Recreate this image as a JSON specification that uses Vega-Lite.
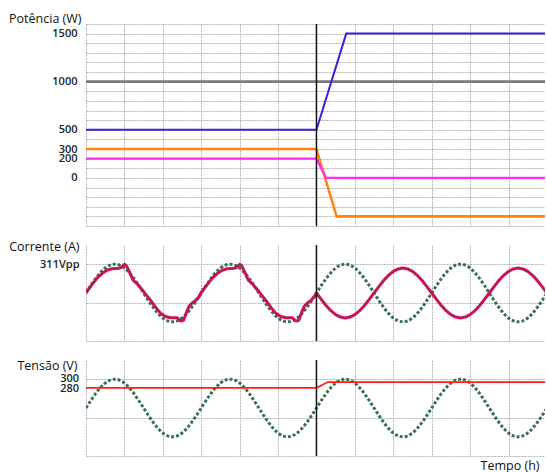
{
  "$schema": "https://vega.github.io/schema/vega-lite/v6.json",
  "padding": {"left": 8, "top": 12, "right": 0, "bottom": 0},
  "background": "white",
  "spacing": 19,
  "bounds": "flush",
  "datasets": {
    "power": [
      {"s": "cinza", "t": 0, "p": 1000}, {"s": "cinza", "t": 47.8, "p": 1000},
      {"s": "laranja", "t": 0, "p": 300}, {"s": "laranja", "t": 24, "p": 300}, {"s": "laranja", "t": 26.1, "p": -400}, {"s": "laranja", "t": 47.8, "p": -400},
      {"s": "rosa", "t": 0, "p": 200}, {"s": "rosa", "t": 24, "p": 200}, {"s": "rosa", "t": 25, "p": 0}, {"s": "rosa", "t": 47.8, "p": 0},
      {"s": "azul", "t": 0, "p": 500}, {"s": "azul", "t": 24, "p": 500}, {"s": "azul", "t": 27.1, "p": 1500}, {"s": "azul", "t": 47.8, "p": 1500}
    ],
    "volt": [
      {"t":0,"a":0,"v":240},{"t":0.5,"a":0.78,"v":255.5},{"t":1,"a":1.5,"v":270},{"t":1.5,"a":2.12,"v":282.4},{"t":2,"a":2.6,"v":292},{"t":2.5,"a":2.9,"v":298},{"t":3,"a":3,"v":300},{"t":3.5,"a":2.9,"v":298},{"t":4,"a":2.6,"v":292},{"t":4.5,"a":2.12,"v":282.4},{"t":5,"a":1.5,"v":270},{"t":5.5,"a":0.78,"v":255.5},{"t":6,"a":0,"v":240},{"t":6.5,"a":-0.78,"v":224.5},{"t":7,"a":-1.5,"v":210},{"t":7.5,"a":-2.12,"v":197.6},{"t":8,"a":-2.6,"v":188},{"t":8.5,"a":-2.9,"v":182},{"t":9,"a":-3,"v":180},{"t":9.5,"a":-2.9,"v":182},{"t":10,"a":-2.6,"v":188},{"t":10.5,"a":-2.12,"v":197.6},{"t":11,"a":-1.5,"v":210},{"t":11.5,"a":-0.78,"v":224.5},
      {"t":12,"a":0,"v":240},{"t":12.5,"a":0.78,"v":255.5},{"t":13,"a":1.5,"v":270},{"t":13.5,"a":2.12,"v":282.4},{"t":14,"a":2.6,"v":292},{"t":14.5,"a":2.9,"v":298},{"t":15,"a":3,"v":300},{"t":15.5,"a":2.9,"v":298},{"t":16,"a":2.6,"v":292},{"t":16.5,"a":2.12,"v":282.4},{"t":17,"a":1.5,"v":270},{"t":17.5,"a":0.78,"v":255.5},{"t":18,"a":0,"v":240},{"t":18.5,"a":-0.78,"v":224.5},{"t":19,"a":-1.5,"v":210},{"t":19.5,"a":-2.12,"v":197.6},{"t":20,"a":-2.6,"v":188},{"t":20.5,"a":-2.9,"v":182},{"t":21,"a":-3,"v":180},{"t":21.5,"a":-2.9,"v":182},{"t":22,"a":-2.6,"v":188},{"t":22.5,"a":-2.12,"v":197.6},{"t":23,"a":-1.5,"v":210},{"t":23.5,"a":-0.78,"v":224.5},
      {"t":24,"a":0,"v":240},{"t":24.5,"a":0.78,"v":255.5},{"t":25,"a":1.5,"v":270},{"t":25.5,"a":2.12,"v":282.4},{"t":26,"a":2.6,"v":292},{"t":26.5,"a":2.9,"v":298},{"t":27,"a":3,"v":300},{"t":27.5,"a":2.9,"v":298},{"t":28,"a":2.6,"v":292},{"t":28.5,"a":2.12,"v":282.4},{"t":29,"a":1.5,"v":270},{"t":29.5,"a":0.78,"v":255.5},{"t":30,"a":0,"v":240},{"t":30.5,"a":-0.78,"v":224.5},{"t":31,"a":-1.5,"v":210},{"t":31.5,"a":-2.12,"v":197.6},{"t":32,"a":-2.6,"v":188},{"t":32.5,"a":-2.9,"v":182},{"t":33,"a":-3,"v":180},{"t":33.5,"a":-2.9,"v":182},{"t":34,"a":-2.6,"v":188},{"t":34.5,"a":-2.12,"v":197.6},{"t":35,"a":-1.5,"v":210},{"t":35.5,"a":-0.78,"v":224.5},
      {"t":36,"a":0,"v":240},{"t":36.5,"a":0.78,"v":255.5},{"t":37,"a":1.5,"v":270},{"t":37.5,"a":2.12,"v":282.4},{"t":38,"a":2.6,"v":292},{"t":38.5,"a":2.9,"v":298},{"t":39,"a":3,"v":300},{"t":39.5,"a":2.9,"v":298},{"t":40,"a":2.6,"v":292},{"t":40.5,"a":2.12,"v":282.4},{"t":41,"a":1.5,"v":270},{"t":41.5,"a":0.78,"v":255.5},{"t":42,"a":0,"v":240},{"t":42.5,"a":-0.78,"v":224.5},{"t":43,"a":-1.5,"v":210},{"t":43.5,"a":-2.12,"v":197.6},{"t":44,"a":-2.6,"v":188},{"t":44.5,"a":-2.9,"v":182},{"t":45,"a":-3,"v":180},{"t":45.5,"a":-2.9,"v":182},{"t":46,"a":-2.6,"v":188},{"t":46.5,"a":-2.12,"v":197.6},{"t":47,"a":-1.5,"v":210},{"t":47.5,"a":-0.78,"v":224.5},
      {"t":48,"a":0,"v":240}
    ],
    "cur": [
      {"t":0,"i":0.05},{"t":0.6,"i":0.85},{"t":1.2,"i":1.6},{"t":1.7,"i":2.05},{"t":2.2,"i":2.37},{"t":2.7,"i":2.52},{"t":3.45,"i":2.57},{"t":3.75,"i":2.72},{"t":4,"i":3},{"t":4.2,"i":2.85},{"t":4.5,"i":2.25},{"t":4.9,"i":1.35},{"t":5.3,"i":0.98},{"t":6,"i":0.15},{"t":6.75,"i":-0.8},{"t":7.3,"i":-1.55},{"t":7.8,"i":-2.15},{"t":8.3,"i":-2.45},{"t":8.8,"i":-2.57},{"t":9.5,"i":-2.58},{"t":9.85,"i":-2.92},{"t":10.15,"i":-2.85},{"t":10.45,"i":-2.05},{"t":10.75,"i":-1.35},{"t":11.1,"i":-1},{"t":11.45,"i":-0.75},{"t":11.8,"i":-0.35},
      {"t":12,"i":0.05},{"t":12.6,"i":0.85},{"t":13.2,"i":1.6},{"t":13.7,"i":2.05},{"t":14.2,"i":2.37},{"t":14.7,"i":2.52},{"t":15.45,"i":2.57},{"t":15.75,"i":2.72},{"t":16,"i":3},{"t":16.2,"i":2.85},{"t":16.5,"i":2.25},{"t":16.9,"i":1.35},{"t":17.3,"i":0.98},{"t":18,"i":0.15},{"t":18.75,"i":-0.8},{"t":19.3,"i":-1.55},{"t":19.8,"i":-2.15},{"t":20.3,"i":-2.45},{"t":20.8,"i":-2.57},{"t":21.5,"i":-2.58},{"t":21.85,"i":-2.92},{"t":22.15,"i":-2.85},{"t":22.45,"i":-2.05},{"t":22.75,"i":-1.35},{"t":23.1,"i":-1},{"t":23.45,"i":-0.75},{"t":23.8,"i":-0.35},
      {"t":24,"i":0},{"t":24.5,"i":-0.67},{"t":25,"i":-1.3},{"t":25.5,"i":-1.84},{"t":26,"i":-2.25},{"t":26.5,"i":-2.51},{"t":27,"i":-2.6},{"t":27.5,"i":-2.51},{"t":28,"i":-2.25},{"t":28.5,"i":-1.84},{"t":29,"i":-1.3},{"t":29.5,"i":-0.67},{"t":30,"i":0},{"t":30.5,"i":0.67},{"t":31,"i":1.3},{"t":31.5,"i":1.84},{"t":32,"i":2.25},{"t":32.5,"i":2.51},{"t":33,"i":2.6},{"t":33.5,"i":2.51},{"t":34,"i":2.25},{"t":34.5,"i":1.84},{"t":35,"i":1.3},{"t":35.5,"i":0.67},
      {"t":36,"i":0},{"t":36.5,"i":-0.67},{"t":37,"i":-1.3},{"t":37.5,"i":-1.84},{"t":38,"i":-2.25},{"t":38.5,"i":-2.51},{"t":39,"i":-2.6},{"t":39.5,"i":-2.51},{"t":40,"i":-2.25},{"t":40.5,"i":-1.84},{"t":41,"i":-1.3},{"t":41.5,"i":-0.67},{"t":42,"i":0},{"t":42.5,"i":0.67},{"t":43,"i":1.3},{"t":43.5,"i":1.84},{"t":44,"i":2.25},{"t":44.5,"i":2.51},{"t":45,"i":2.6},{"t":45.5,"i":2.51},{"t":46,"i":2.25},{"t":46.5,"i":1.84},{"t":47,"i":1.3},{"t":47.5,"i":0.67},{"t":48,"i":0}
    ],
    "red": [{"t":0,"v":282},{"t":24,"v":282},{"t":25.2,"v":294},{"t":48,"v":294}],
    "vlabels": [{"v": 300, "lab": "300"}, {"v": 280, "lab": "280"}],
    "switch": [{"t":24}]
  },
  "vconcat": [
    {
      "width": 459, "height": 202,
      "layer": [
        {
          "data": {"name": "power"},
          "mark": {"type": "line", "clip": true},
          "encoding": {
            "x": {"field": "t", "type": "quantitative", "scale": {"domain": [0, 47.8], "nice": false, "zero": false},
                  "axis": {"values": [0,1,2,3,4,5,6,7,8,9,10,11,12,13,14,15,16,17,18,19,20,21,22,23,24,25,26,27,28,29,30,31,32,33,34,35,36,37,38,39,40,41,42,43,44,45,46,47], "labels": false, "title": null}},
            "y": {"field": "p", "type": "quantitative", "scale": {"domain": [-500, 1600], "nice": false, "zero": false},
                  "axis": {"values": [-500,-400,-300,-200,-100,0,100,200,300,400,500,600,700,800,900,1000,1100,1200,1300,1400,1500,1600],
                           "format": "d",
                           "labelExpr": "indexof([0,200,300,500,1000,1500], datum.value) >= 0 ? datum.label : ''",
                           "labelPadding": 9, "labelOverlap": false,
                           "title": "Potência (W)", "titleAngle": 0, "titleAlign": "right", "titleBaseline": "middle", "titleX": -5, "titleY": -6}},
            "color": {"field": "s", "type": "nominal", "scale": {"domain": ["cinza", "laranja", "rosa", "azul"], "range": ["#7a7a7a", "#ff8510", "#ff2bf0", "#3b1ee0"]}, "legend": null},
            "strokeWidth": {"field": "s", "type": "ordinal", "scale": {"domain": ["cinza", "laranja", "rosa", "azul"], "range": [2.8, 2, 2, 2]}, "legend": null}
          }
        },
        {
          "data": {"name": "switch"},
          "mark": {"type": "rule", "color": "#111111", "strokeWidth": 1.5},
          "encoding": {"x": {"field": "t", "type": "quantitative"}}
        }
      ]
    },
    {
      "width": 459, "height": 96,
      "layer": [
        {
          "data": {"name": "volt"},
          "mark": {"type": "line", "clip": true, "color": "#3a7150", "strokeWidth": 3, "strokeDash": [3, 2], "interpolate": "monotone"},
          "encoding": {
            "x": {"field": "t", "type": "quantitative", "scale": {"domain": [0, 47.8], "nice": false, "zero": false},
                  "axis": {"values": [0,1,2,3,4,5,6,7,8,9,10,11,12,13,14,15,16,17,18,19,20,21,22,23,24,25,26,27,28,29,30,31,32,33,34,35,36,37,38,39,40,41,42,43,44,45,46,47], "labels": false, "title": null}},
            "y": {"field": "a", "type": "quantitative", "scale": {"domain": [-5, 5], "nice": false, "zero": false},
                  "axis": {"values": [-5,-4,-3,-2,-1,0,1,2,3,4,5],
                           "labelExpr": "datum.value == 3 ? '311Vpp' : ''",
                           "labelPadding": 7, "labelOverlap": false,
                           "title": "Corrente (A)", "titleAngle": 0, "titleAlign": "right", "titleBaseline": "middle", "titleX": -7, "titleY": 1}}
          }
        },
        {
          "data": {"name": "cur"},
          "mark": {"type": "line", "clip": true, "color": "#c4145e", "strokeWidth": 3, "strokeJoin": "round"},
          "encoding": {
            "x": {"field": "t", "type": "quantitative"},
            "y": {"field": "i", "type": "quantitative"}
          }
        },
        {
          "data": {"name": "switch"},
          "mark": {"type": "rule", "color": "#111111", "strokeWidth": 1.5},
          "encoding": {"x": {"field": "t", "type": "quantitative"}}
        }
      ]
    },
    {
      "width": 459, "height": 96,
      "layer": [
        {
          "data": {"name": "volt"},
          "mark": {"type": "line", "clip": true, "color": "#3a7150", "strokeWidth": 3, "strokeDash": [3, 2], "interpolate": "monotone"},
          "encoding": {
            "x": {"field": "t", "type": "quantitative", "scale": {"domain": [0, 47.8], "nice": false, "zero": false},
                  "axis": {"values": [0,1,2,3,4,5,6,7,8,9,10,11,12,13,14,15,16,17,18,19,20,21,22,23,24,25,26,27,28,29,30,31,32,33,34,35,36,37,38,39,40,41,42,43,44,45,46,47], "labels": false,
                           "title": "Tempo (h)", "titleAlign": "right", "titleBaseline": "middle", "titleX": 453, "titleY": 9}},
            "y": {"field": "v", "type": "quantitative", "scale": {"domain": [140, 340], "nice": false, "zero": false},
                  "axis": {"values": [140,160,180,200,220,240,260,280,300,320,340],
                           "labels": false,
                           "title": "Tensão (V)", "titleAngle": 0, "titleAlign": "right", "titleBaseline": "middle", "titleX": -9, "titleY": 5}}
          }
        },
        {
          "data": {"name": "red"},
          "mark": {"type": "line", "clip": true, "color": "#ff1c1c", "strokeWidth": 1.6},
          "encoding": {
            "x": {"field": "t", "type": "quantitative"},
            "y": {"field": "v", "type": "quantitative"}
          }
        },
        {
          "data": {"name": "vlabels"},
          "mark": {"type": "text", "align": "right", "baseline": "middle", "dx": -7, "font": "Open Sans", "fontSize": 11, "fontWeight": 600, "color": "#222222"},
          "encoding": {
            "x": {"datum": 0, "type": "quantitative"},
            "y": {"field": "v", "type": "quantitative"},
            "text": {"field": "lab", "type": "nominal"}
          }
        },
        {
          "data": {"name": "switch"},
          "mark": {"type": "rule", "color": "#111111", "strokeWidth": 1.5},
          "encoding": {"x": {"field": "t", "type": "quantitative"}}
        }
      ]
    }
  ],
  "config": {
    "view": {"stroke": null},
    "font": "Open Sans",
    "axis": {
      "grid": true, "gridColor": "#b4b4b4", "gridDash": [2, 1], "gridWidth": 1,
      "ticks": false, "domain": false,
      "labelFont": "Open Sans", "labelFontSize": 11, "labelFontWeight": 600, "labelColor": "#222222",
      "labelOverlap": false, "labelFlush": false,
      "titleFont": "Open Sans", "titleFontSize": 12.5, "titleFontWeight": 500, "titleColor": "#111111"
    }
  }
}
